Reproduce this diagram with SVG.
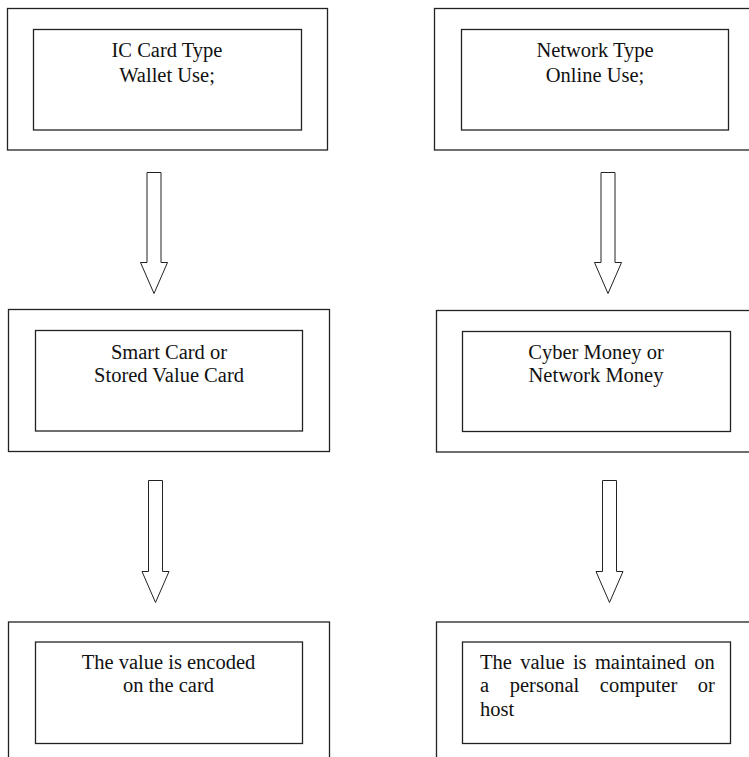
<svg xmlns="http://www.w3.org/2000/svg" width="749" height="757" viewBox="0 0 749 757" font-family="'Liberation Serif', 'Times New Roman', Times, serif" font-size="20.5">
<style>
.outer{fill:none;stroke:#222;stroke-width:1.3}
.inner{fill:none;stroke:#222;stroke-width:1.3}
.arrow{fill:#fff;stroke:#222;stroke-width:1}
.t{font-family:'Liberation Serif','Times New Roman',Times,serif;font-size:20.5px;fill:#111}
.c{text-anchor:middle}
</style>
<rect width="749" height="757" fill="#fff"/>
<g id="node-ic-card">
<rect class="outer" x="7.5" y="8.5" width="320" height="141.5"/>
<rect class="inner" x="33.5" y="29.5" width="268" height="100.5"/>
<text class="t c" x="167" y="57">IC Card Type</text>
<text class="t c" x="167" y="82">Wallet Use;</text>
</g>
<g id="node-network-type">
<rect class="outer" x="434.5" y="8.5" width="330" height="141.5"/>
<rect class="inner" x="461.5" y="29.5" width="267" height="100.5"/>
<text class="t c" x="595" y="57">Network Type</text>
<text class="t c" x="595" y="82">Online Use;</text>
</g>
<g id="node-smart-card">
<rect class="outer" x="8.5" y="309.5" width="321" height="142"/>
<rect class="inner" x="35.5" y="330.5" width="267" height="100.5"/>
<text class="t c" x="169" y="358.5">Smart Card or</text>
<text class="t c" x="169" y="382">Stored Value Card</text>
</g>
<g id="node-cyber-money">
<rect class="outer" x="436.5" y="310.5" width="330" height="141.5"/>
<rect class="inner" x="462.5" y="331.5" width="268" height="100"/>
<text class="t c" x="596" y="358.5">Cyber Money or</text>
<text class="t c" x="596" y="382">Network Money</text>
</g>
<g id="node-encoded">
<rect class="outer" x="8.5" y="622" width="321" height="150"/>
<rect class="inner" x="35.5" y="642" width="267" height="101.5"/>
<text class="t c" x="168.5" y="668.5">The value is encoded</text>
<text class="t c" x="168.5" y="692">on the card</text>
</g>
<g id="node-maintained">
<rect class="outer" x="436.5" y="622" width="330" height="150"/>
<rect class="inner" x="462.5" y="642" width="268" height="101.5"/>
<text class="t" x="480" y="668.5" word-spacing="3.2">The value is maintained on</text>
<text class="t" x="480" y="692" word-spacing="15.5">a personal computer or</text>
<text class="t" x="480" y="715.5">host</text>
</g>
<g id="connectors">
<path class="arrow" d="M147 172.5 H161 V262.5 H167.5 L154 293.5 L140.5 262.5 H147 Z"/>
<path class="arrow" d="M601 172.5 H615 V262.5 H621.5 L608 293.5 L594.5 262.5 H601 Z"/>
<path class="arrow" d="M148.5 480.5 H162.5 V571.5 H169 L155.5 602.5 L142 571.5 H148.5 Z"/>
<path class="arrow" d="M602.5 480.5 H616.5 V571.5 H623 L609.5 602.5 L596 571.5 H602.5 Z"/>
</g>
</svg>
